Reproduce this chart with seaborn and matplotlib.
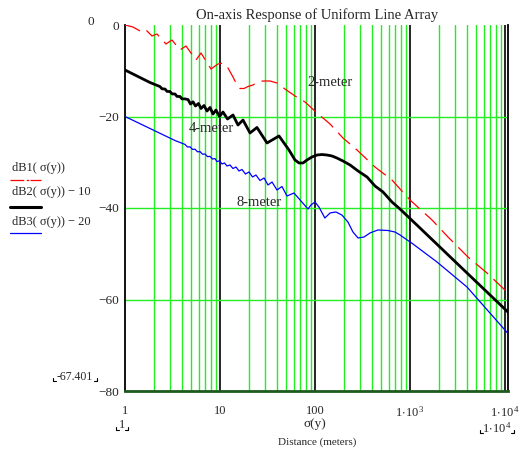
import matplotlib
matplotlib.use("Agg")
import matplotlib.pyplot as plt
import pandas as pd
import seaborn as sns
from matplotlib.lines import Line2D
from matplotlib.ticker import FixedLocator, NullFormatter

# ---- on-axis response, distance in metres, level in dB ----
dist_2m = [1, 1.214, 1.438, 1.624, 1.924, 2.172, 2.70, 3.125, 3.79, 4.385, 5.59, 6.31,
           8.04, 9.53, 10.75, 12.14, 13.7, 15.1, 16.24, 17.9, 19.7, 22.24, 25.1, 28.4, 33.6,
           39.8, 48.3, 61.6, 78.5, 105, 144, 197, 277, 428, 646, 1000, 1706, 2512, 4075,
           6460, 10500]
db_2m = [0, -0.44, -1.31, -0.87, -2.40, -1.97, -4.15, -3.28, -5.46, -4.59, -7.65, -6.12,
         -9.62, -8.52, -8.31, -9.4, -11.37, -13.11, -13.88, -13.88, -13.44, -13.11, -12.46,
         -12.24, -12.24, -12.68, -13.99, -15.52, -16.83, -19.23, -21.64, -24.7, -27.32,
         -31.04, -33.88, -38.25, -42.62, -46.34, -50.71, -54.2, -58.36]

dist_4m = [1, 1.833, 2.336, 2.452, 2.637, 2.768, 2.977, 3.125, 3.36, 3.527, 3.79, 3.98,
           4.28, 4.61, 4.89, 5.20, 5.52, 5.94, 6.31, 6.79, 7.30, 7.85, 8.44, 9.07, 9.88,
           10.75, 12.0, 13.7, 15.46, 17.46, 20.7, 24.5, 31.25, 41.8, 53.2, 61.6, 67.9, 74.8,
           82.4, 93.0, 105, 118.5, 134, 151, 170, 197, 234, 284, 353, 428, 520, 646, 785,
           1274, 3981, 10730]
db_4m = [-9.84, -12.57, -13.46, -13.95, -13.99, -14.51, -14.54, -15.06, -15.08, -15.61,
         -15.63, -16.15, -16.15, -16.3, -17.27, -16.79, -17.7, -17.16, -18.25, -17.6, -18.8,
         -18.03, -19.45, -18.58, -20.0, -19.02, -20.55, -19.67, -21.86, -20.77, -23.6, -22.4,
         -25.79, -24.26, -27.32, -29.51, -30.16, -30.16, -29.5, -28.85, -28.42, -28.31,
         -28.42, -28.63, -29.07, -29.73, -30.6, -31.91, -33.22, -35.19, -36.5, -38.69,
         -40.22, -44.37, -54.2, -62.73]

dist_8m = [1, 1.833, 3.36, 4.28, 4.55, 4.83, 5.135, 5.457, 5.80, 6.16, 6.545, 6.95, 7.386,
           7.85, 8.34, 8.86, 9.29, 9.88, 10.5, 11.15, 11.85, 12.74, 13.7, 14.73, 15.85, 17.04,
           18.55, 20.2, 22.0, 23.9, 26.37, 29.1, 32.0, 35.3, 39.8, 44.9, 50.7, 60.1, 71.2,
           84.4, 90.7, 100, 110, 127, 144, 166, 192, 222, 251, 284, 328, 379, 460, 587, 695,
           785, 1076, 1923, 3981, 10730]
db_8m = [-20.0, -22.62, -25.25, -26.1, -26.67, -26.62, -27.19, -27.15, -27.72, -27.67,
         -28.24, -28.2, -28.77, -28.72, -29.29, -29.2, -29.86, -29.68, -30.38, -30.16, -30.82,
         -30.6, -31.37, -31.04, -31.91, -31.58, -32.57, -32.13, -33.22, -32.79, -33.99, -33.44,
         -34.97, -34.32, -36.07, -35.3, -37.38, -36.72, -38.47, -40.22, -39.34, -38.69,
         -39.78, -42.19, -41.09, -40.87, -41.53, -43.06, -45.25, -46.56, -46.34, -45.46,
         -44.8, -44.92, -45.25, -45.9, -47.87, -51.8, -57.27, -67.401]

y_ticks = [0, -20, -40, -60, -80]
x_ticks = [1, 10, 100, 1000, 10000]
x_tick_labels = ["1", "10", "100", r"$\mathregular{1\!\cdot\!10^{3}}$", r"$\mathregular{1\!\cdot\!10^{4}}$"]
legend_labels = ["dB1( σ(y))", "dB2( σ(y)) − 10", "dB3( σ(y)) − 20"]

sns.set_style("white")
plt.rcParams["font.family"] = ["Liberation Serif", "DejaVu Sans"]
plt.rcParams["mathtext.fontset"] = "custom"
plt.rcParams["mathtext.rm"] = "Liberation Serif"

W, H = 519, 451
fig = plt.figure(figsize=(W / 100, H / 100), dpi=100)
ax = fig.add_axes([125 / W, 1 - 391 / H, 383.5 / W, 366 / H])

GREEN = "#22ee22"
ax.set_xscale("log")
ax.set_xlim(1, 10 ** (383.5 / 95))
ax.set_ylim(-80, 0)

# grid: green minor decades, black decade lines, green level lines
minor = [m * 10 ** e for e in range(0, 4) for m in range(2, 10)]
ax.xaxis.set_minor_locator(FixedLocator(minor))
ax.xaxis.set_minor_formatter(NullFormatter())
for xm in minor:
    ax.axvline(xm, color=GREEN, lw=1.0, zorder=1)
for xd in x_ticks[1:]:
    ax.axvline(xd, color="black", lw=1.2, zorder=1)
for yv in y_ticks[1:-1]:
    ax.axhline(yv, color=GREEN, lw=1.0, zorder=1)

ax.set_xticks(x_ticks)
ax.set_xticklabels(x_tick_labels, fontsize=9)
ax.set_yticks(y_ticks)
ax.set_yticklabels(["0", "−20", "−40", "−60", "−80"], fontsize=9.5)
ax.tick_params(axis="both", which="both", length=0)
ax.tick_params(axis="x", pad=10)
ax.tick_params(axis="y", pad=4)
ax.grid(False)

ax.spines["top"].set_visible(False)
ax.spines["left"].set_color("black")
ax.spines["left"].set_linewidth(1.3)
ax.spines["right"].set_color("black")
ax.spines["right"].set_linewidth(1.3)
ax.spines["bottom"].set_color("#1d5a1d")
ax.spines["bottom"].set_linewidth(2.0)

df2 = pd.DataFrame({"dist": dist_2m, "db": db_2m})
df4 = pd.DataFrame({"dist": dist_4m, "db": db_4m})
df8 = pd.DataFrame({"dist": dist_8m, "db": db_8m})

sns.lineplot(data=df2, x="dist", y="db", ax=ax, color="#ff0000", lw=0.9,
             linestyle=(0, (13, 6)), sort=False, zorder=4)
sns.lineplot(data=df4, x="dist", y="db", ax=ax, color="black", lw=2.0,
             sort=False, zorder=4)
sns.lineplot(data=df8, x="dist", y="db", ax=ax, color="#0000ff", lw=0.9,
             sort=False, zorder=4)
ax.set_xlabel("")
ax.set_ylabel("")

ax.set_title("On-axis Response of Uniform Line Array", fontsize=10.5, pad=4)

ax.text(144, -12.46, "2-meter", fontsize=10.5, ha="center", va="center", zorder=5)
ax.text(8.04, -22.73, "4-meter", fontsize=10.5, ha="center", va="center", zorder=5)
ax.text(25.7, -38.7, "8-meter", fontsize=10.5, ha="center", va="center", zorder=5)


def fx(px):
    return px / W


def fy(py):
    return 1 - py / H


def corners(x0, x1, y):
    # small corner marks framing an axis-limit readout
    for xs, dx in ((x0, 3), (x1, -3)):
        fig.add_artist(Line2D([fx(xs), fx(xs), fx(xs + dx)], [fy(y - 3), fy(y), fy(y)],
                              color="black", lw=0.8))


# legend block on the left
legend_rows = [(168, 180, "#ff0000", 0.9, (0, (11, 2, 2, 1))),
               (192, 207, "black", 2.2, "-"),
               (222, 233, "#0000ff", 0.9, "-")]
for (ty, ly, col, lw, ls), lab in zip(legend_rows, legend_labels):
    fig.text(fx(12), fy(ty), lab, fontsize=9, ha="left", va="center")
    fig.add_artist(Line2D([fx(10), fx(41)], [fy(ly), fy(ly)], color=col, lw=lw, linestyle=ls))

# axis limit readouts
fig.text(fx(91), fy(22), "0", fontsize=9.5, ha="center", va="center")
fig.text(fx(75), fy(377), "-67.401", fontsize=8.5, ha="center", va="center")
corners(53, 97, 381)
fig.text(fx(122), fy(425), "1", fontsize=9, ha="center", va="center")
corners(116, 128, 430)
fig.text(fx(497), fy(428), r"$\mathregular{1\!\cdot\!10^{4}}$", fontsize=9, ha="center", va="center")
corners(480, 514, 433)

fig.text(fx(315), fy(424), "σ(y)", fontsize=9.5, ha="center", va="center")
fig.text(fx(317), fy(442), "Distance (meters)", fontsize=8, ha="center", va="center")

fig.savefig("out.png", dpi=100)
